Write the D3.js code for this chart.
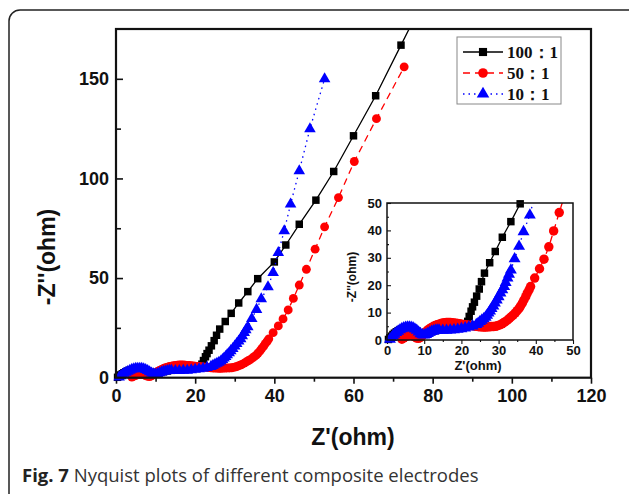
<!DOCTYPE html>
<html>
<head>
<meta charset="utf-8">
<script src="https://cdn.jsdelivr.net/npm/d3@7"></script>
<style>
	body { margin: 0; background: #fff; }
</style>
</head>
<body>
<div id="chart"></div>
<script>
// values, [Z', -Z'']
var s100 = [
	[0.4,0.2],[0.8,0.8],[1.2,1.4],[1.6,2.0],[2.0,2.5],[2.5,3.0],[3.0,3.4],[3.5,3.8],[4.0,4.0],[5.0,4.3],
	[6.0,4.2],[7.0,3.8],[8.0,3.2],[9.0,2.7],[10.0,2.5],[11.0,2.7],[12.0,3.0],[13.0,3.4],[14.0,3.7],
	[15.0,4.0],[16.0,4.2],[17.0,4.4],[18.0,4.6],[19.0,4.8],[20.0,5.0],[20.6,5.3],[21.2,5.8],
	[21.7,6.8],[22.1,8.6],[22.6,10.5],[23.0,12.1],[23.5,13.8],[24.1,16.0],[24.8,18.6],[25.4,21.3],
	[26.2,24.4],[27.6,28.2],[29.1,32.3],[31.0,37.5],[33.3,43.2],[35.8,49.7],[40.0,58.1],[42.9,66.6],
	[46.3,77.0],[50.5,89.1],[55.0,103.5],[60.0,121.4],[65.6,141.5],[72.0,166.9],[78.2,191.5]
];
var s50 = [
	[4.0,0.3],[4.5,0.8],[5.0,1.2],[5.5,1.5],[6.0,1.7],[6.5,1.7],[7.0,1.5],[7.5,1.1],[8.0,0.7],[8.5,0.6],
	[9.0,0.9],[9.5,1.6],[10.0,2.4],[10.5,3.1],[11.0,3.7],[11.5,4.2],[12.0,4.6],[12.5,5.0],[13.0,5.3],
	[13.5,5.6],[14.0,5.8],[14.5,6.0],[15.0,6.2],[15.5,6.3],[16.0,6.4],[16.5,6.4],[17.0,6.4],[17.5,6.3],
	[18.0,6.2],[18.5,6.1],[19.0,6.0],[19.5,5.9],[20.0,5.8],[20.5,5.7],[21.0,5.6],[21.5,5.5],[22.0,5.4],
	[22.5,5.3],[23.0,5.2],[23.5,5.1],[24.0,5.0],[24.5,4.9],[25.0,4.8],[25.5,4.8],[26.0,4.7],[26.5,4.7],
	[27.0,4.8],[27.5,4.8],[28.0,4.9],[28.6,4.9],[29.2,5.0],[29.7,5.2],[30.3,5.5],[30.9,5.9],[31.4,6.3],
	[31.8,6.7],[32.4,7.3],[32.9,7.9],[33.4,8.5],[33.9,9.1],[34.5,9.9],[35.0,10.7],[35.5,11.5],[35.9,12.4],
	[36.4,13.5],[36.8,14.6],[37.3,15.8],[37.7,17.1],[38.2,18.3],[38.6,19.5],[39.7,22.6],[41.0,26.0],
	[42.2,29.5],[43.5,34.0],[44.8,39.8],[46.3,46.5],[48.1,54.4],[50.3,64.5],[52.7,75.7],[56.2,90.4],
	[60.2,108.5],[65.8,130.0],[72.8,156.0]
];
var s10 = [
	[0.8,0.3],[1.2,0.9],[1.6,1.5],[2.0,2.1],[2.5,2.7],[3.0,3.2],[3.5,3.7],[4.0,4.1],[4.5,4.4],[5.0,4.6],
	[5.5,4.7],[6.0,4.7],[6.5,4.6],[7.0,4.4],[7.5,4.0],[8.0,3.5],[8.5,2.9],[9.0,2.3],[9.5,1.9],[10.0,1.8],
	[10.5,2.0],[11.0,2.4],[11.5,2.8],[12.0,3.1],[12.5,3.3],[13.0,3.5],[13.5,3.6],[14.0,3.6],[15.0,3.5],
	[16.0,3.5],[17.0,3.6],[18.0,3.7],[19.0,3.9],[20.0,4.1],[21.0,4.4],[22.0,4.7],[23.0,5.1],[24.0,5.6],
	[24.5,6.1],[25.0,6.7],[25.5,7.2],[26.0,7.7],[26.5,8.3],[26.9,9.0],[27.3,9.8],[27.7,10.6],[28.1,11.5],
	[28.6,12.4],[29.0,13.5],[29.5,14.6],[30.0,15.8],[30.5,17.1],[31.0,18.3],[31.5,19.5],[31.9,21.0],
	[32.4,22.6],[32.8,24.0],[33.3,25.5],[34.3,29.6],[35.5,34.2],[36.7,39.5],[38.4,45.6],[39.7,52.7],
	[41.0,62.8],[42.5,73.7],[44.1,87.1],[46.3,103.8],[49.0,124.9],[52.7,150.0]
];

var seriesNames = ["100\uff1a1", "50\uff1a1", "10\uff1a1"];
var xTicks = [0, 20, 40, 60, 80, 100, 120];
var yTicks = [0, 50, 100, 150];
var insetTicks = [0, 10, 20, 30, 40, 50];

var SANS = "'Liberation Sans', Arimo, Arial, Helvetica, sans-serif";
var SERIF = "'Liberation Serif', Tinos, 'Times New Roman', 'DejaVu Serif', serif";

var series = [
	{ name: seriesNames[0], values: s100, color: "#000", shape: d3.symbolSquare, dash: null },
	{ name: seriesNames[1], values: s50, color: "#f00", shape: d3.symbolCircle, dash: "7,5" },
	{ name: seriesNames[2], values: s10, color: "#00f", shape: d3.symbolTriangle, dash: "1.5,4" }
];

var svg = d3.select("#chart").append("svg")
	.attr("width", 629)
	.attr("height", 494);

// frame around figure
svg.append("rect")
	.attr("x", 9).attr("y", 10)
	.attr("width", 650).attr("height", 495)
	.attr("rx", 11)
	.attr("fill", "none")
	.attr("stroke", "#222")
	.attr("stroke-width", 1.5);

var drawPlot = function(box, xDomain, yDomain, opt) {
	var x = d3.scaleLinear().domain(xDomain).range([box.left, box.right]);
	var y = d3.scaleLinear().domain(yDomain).range([box.bottom, box.top]);
	var g = svg.append("g");

	var clipId = "clip-" + opt.id;
	svg.append("clipPath").attr("id", clipId)
		.append("rect")
		.attr("x", box.left).attr("y", box.top)
		.attr("width", box.right - box.left).attr("height", box.bottom - box.top);

	// x axis
	g.append("g")
		.attr("transform", "translate(0," + box.bottom + ")")
		.call(d3.axisBottom(x).tickValues(opt.xMinor).tickSize(opt.minorX).tickFormat(""))
		.call(function(a) { a.select(".domain").remove(); });
	var xa = g.append("g")
		.attr("transform", "translate(0," + box.bottom + ")")
		.call(d3.axisBottom(x).tickValues(opt.xTicks).tickSize(opt.majorX).tickPadding(opt.padX));
	xa.select(".domain").remove();

	// y axis
	g.append("g")
		.attr("transform", "translate(" + box.left + ",0)")
		.call(d3.axisRight(y).tickValues(opt.yMinor).tickSize(opt.minorY).tickFormat(""))
		.call(function(a) { a.select(".domain").remove(); });
	var ya = g.append("g")
		.attr("transform", "translate(" + box.left + ",0)")
		.call(d3.axisLeft(y).tickValues(opt.yTicks).tickSize(opt.majorY).tickPadding(opt.padY));
	ya.select(".domain").remove();
	ya.selectAll("text").attr("x", -opt.padY);

	g.selectAll(".tick text")
		.style("font-family", SANS)
		.style("font-weight", "bold")
		.style("font-size", opt.fs + "px")
		.attr("fill", "#111");
	g.selectAll(".tick line").attr("stroke", "#111").attr("stroke-width", opt.tw);

	var line = d3.line()
		.x(function(d) { return x(d[0]); })
		.y(function(d) { return y(d[1]); });

	series.forEach(function(s) {
		g.append("path")
			.attr("clip-path", "url(#" + clipId + ")")
			.attr("d", line(s.values))
			.attr("fill", "none")
			.attr("stroke", s.color)
			.attr("stroke-width", 1.3)
			.attr("stroke-dasharray", s.dash);
		var sym = d3.symbol().type(s.shape).size(opt.sizes[s.name]);
		g.selectAll(null)
			.data(s.values.filter(function(d) { return d[0] <= xDomain[1] && d[1] <= yDomain[1] + 0.5; }))
			.enter().append("path")
			.attr("transform", function(d) { return "translate(" + x(d[0]) + "," + y(d[1]) + ")"; })
			.attr("d", sym)
			.attr("fill", s.color);
	});

	g.append("rect")
		.attr("x", box.left).attr("y", box.top)
		.attr("width", box.right - box.left).attr("height", box.bottom - box.top)
		.attr("fill", "none")
		.attr("stroke", "#111")
		.attr("stroke-width", opt.bw);
};

var sizes = {};
sizes[seriesNames[0]] = 56; sizes[seriesNames[1]] = 62; sizes[seriesNames[2]] = 58;

// main plot
drawPlot({ left: 116, right: 591, top: 29, bottom: 377.7 }, [0, 120], [0, 175], {
	id: "main", xTicks: xTicks, yTicks: yTicks,
	xMinor: [10, 30, 50, 70, 90, 110], yMinor: [25, 75, 125],
	majorX: 6, minorX: 4, majorY: -7, minorY: 5, padX: 6, padY: 7,
	fs: 18, tw: 1.6, bw: 2.2, sizes: sizes
});

var isizes = {};
isizes[seriesNames[0]] = 56; isizes[seriesNames[1]] = 70; isizes[seriesNames[2]] = 62;

// inset
drawPlot({ left: 387, right: 573, top: 203, bottom: 340 }, [0, 50], [0, 50], {
	id: "inset", xTicks: insetTicks, yTicks: insetTicks,
	xMinor: [5, 15, 25, 35, 45], yMinor: [5, 15, 25, 35, 45],
	majorX: 4, minorX: 2, majorY: -4, minorY: 2, padX: 2, padY: 5,
	fs: 13, tw: 1.1, bw: 1.5, sizes: isizes
});

var title = function(sel, size) {
	return sel.style("font-family", SANS)
		.style("font-weight", "bold")
		.style("font-size", size + "px")
		.attr("fill", "#111")
		.attr("text-anchor", "middle");
};

// axis titles
title(svg.append("text"), 23)
	.attr("x", 353).attr("y", 445)
	.text("Z'(ohm)");

title(svg.append("text"), 23)
	.attr("transform", "translate(55,257) rotate(-90)")
	.text("-Z''(ohm)");

title(svg.append("text"), 13)
	.attr("x", 478).attr("y", 370)
	.text("Z'(ohm)");

title(svg.append("text"), 12)
	.attr("transform", "translate(356,277) rotate(-90)")
	.text("-Z''(ohm)");

// legend
var legend = svg.append("g");
legend.append("rect")
	.attr("x", 457).attr("y", 37)
	.attr("width", 104).attr("height", 67)
	.attr("fill", "#fff")
	.attr("stroke", "#888")
	.attr("stroke-width", 1);

series.forEach(function(s, i) {
	var ly = 52 + i * 21;
	legend.append("line")
		.attr("x1", 463).attr("x2", 503)
		.attr("y1", ly).attr("y2", ly)
		.attr("stroke", s.color)
		.attr("stroke-width", 1.5)
		.attr("stroke-dasharray", s.dash);
	legend.append("path")
		.attr("transform", "translate(483," + ly + ")")
		.attr("d", d3.symbol().type(s.shape).size(sizes[s.name] + 10))
		.attr("fill", s.color);
	legend.append("text")
		.attr("x", 507).attr("y", ly + 6)
		.style("font-family", SERIF)
		.style("font-weight", "bold")
		.style("font-size", "17px")
		.attr("fill", "#111")
		.text(s.name);
});

// caption
var cap = svg.append("text")
	.attr("x", 22).attr("y", 482)
	.style("font-family", "'Open Sans', sans-serif")
	.style("font-size", "18.5px")
	.attr("fill", "#333");
cap.append("tspan").style("font-weight", "bold").attr("fill", "#222").text("Fig. 7");
cap.append("tspan").text(" Nyquist plots of different composite electrodes");
</script>
</body>
</html>
